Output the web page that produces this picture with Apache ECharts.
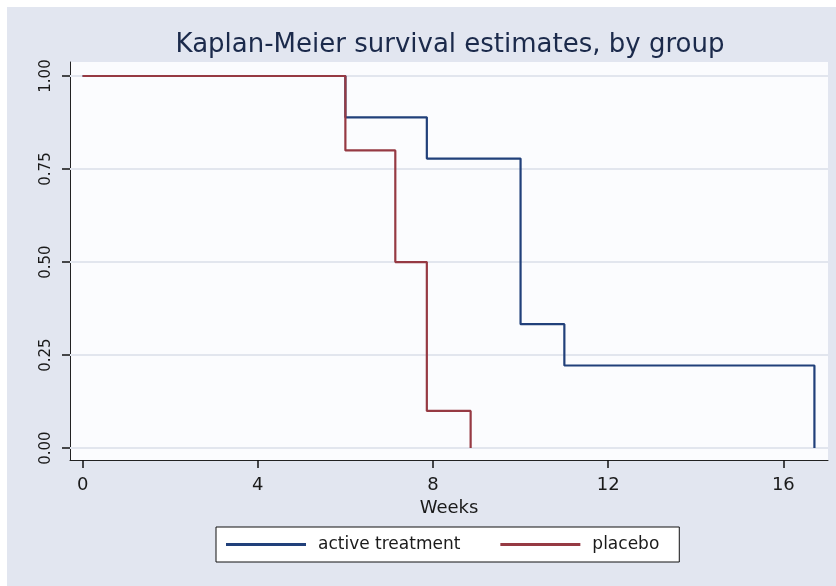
<!DOCTYPE html>
<html>
<head>
<meta charset="utf-8">
<script src="https://cdn.jsdelivr.net/npm/echarts@6/dist/echarts.min.js"></script>
<style>
html,body{margin:0;padding:0;background:#ffffff;}
#chart{position:absolute;left:7px;top:7px;width:829px;height:579px;}
</style>
</head>
<body>
<div id="chart"></div>
<script>
const groups = ['active treatment', 'placebo'];
const activeWeeks = [0, 6, 7.86, 10, 11, 16.71];
const activeSurvival = [1, 0.889, 0.778, 0.333, 0.222, 0];
const placeboWeeks = [0, 6, 7.14, 7.86, 8.86];
const placeboSurvival = [1, 0.8, 0.5, 0.1, 0];
const xTicks = [0, 4, 8, 12, 16];
const yTicks = [0, 0.25, 0.5, 0.75, 1];

const FONT = 'DejaVu Sans';
const chart = echarts.init(document.getElementById('chart'), null, {renderer: 'canvas'});

function pairs(xs, ys) { return xs.map((x, i) => [x, ys[i]]); }

chart.setOption({
  backgroundColor: '#e2e6f0',
  animation: false,
  title: {
    text: 'Kaplan-Meier survival estimates, by group',
    left: 438,
    textAlign: 'center',
    top: 20,
    textStyle: {fontFamily: FONT, fontSize: 26, fontWeight: 'normal', color: '#1b2a4b'}
  },
  legend: {
    data: groups,
    left: 209,
    top: 520,
    padding: [9, 20, 9, 10],
    itemGap: 40,
    itemWidth: 80,
    itemHeight: 3,
    icon: 'rect',
    backgroundColor: '#ffffff',
    borderColor: '#111111',
    borderWidth: 1,
    borderRadius: 0,
    textStyle: {fontFamily: FONT, fontSize: 17, color: '#1a1a1a', padding: [0, 0, 0, 7]}
  },
  grid: {left: 63, top: 55, right: 8, bottom: 126, show: true, backgroundColor: '#fbfcfe', borderWidth: 0},
  xAxis: {
    type: 'value', min: -0.288, max: 17.02,
    name: 'Weeks', nameLocation: 'middle', nameGap: 36,
    nameTextStyle: {fontFamily: FONT, fontSize: 18, color: '#1a1a1a'},
    axisLine: {show: true, onZero: false, lineStyle: {color: '#222', width: 1}},
    axisTick: {show: true, length: 8, lineStyle: {color: '#111', width: 1.5}, customValues: xTicks},
    axisLabel: {fontFamily: FONT, fontSize: 18, color: '#1a1a1a', margin: 16, customValues: xTicks},
    splitLine: {show: false}
  },
  yAxis: {
    type: 'value', min: -0.032, max: 1.0376,
    axisLine: {show: true, onZero: false, lineStyle: {color: '#222', width: 1}},
    axisTick: {show: true, length: 8, lineStyle: {color: '#111', width: 1.5}, customValues: yTicks},
    axisLabel: {fontFamily: FONT, fontSize: 15, color: '#1a1a1a', margin: 16, rotate: 90,
      customValues: yTicks, formatter: v => v.toFixed(2)},
    splitLine: {show: false}
  },
  series: [
    {
      name: 'grid', type: 'line', data: [], silent: true, z: 1,
      markLine: {
        silent: true, symbol: 'none', label: {show: false}, z: 1,
        lineStyle: {color: '#e2e6ee', width: 2, type: 'solid'},
        data: yTicks.map(v => ({yAxis: v}))
      }
    },
    {
      name: groups[0], type: 'line', step: 'end', showSymbol: false, symbol: 'none', z: 3,
      color: '#21407a', lineStyle: {width: 2.2, color: '#21407a'},
      data: pairs(activeWeeks, activeSurvival)
    },
    {
      name: groups[1], type: 'line', step: 'end', showSymbol: false, symbol: 'none', z: 4,
      color: '#963a43', lineStyle: {width: 2.2, color: '#963a43'},
      data: pairs(placeboWeeks, placeboSurvival)
    }
  ]
});
</script>
</body>
</html>
